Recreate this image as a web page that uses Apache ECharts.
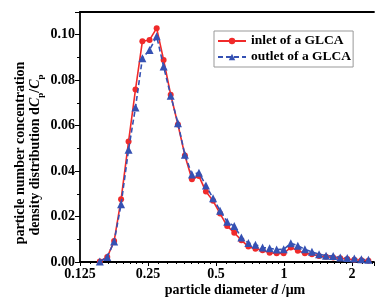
<!DOCTYPE html>
<html lang="en">
	<head>
		<meta charset="utf-8">
		<title>particle number concentration</title>
		<style>
			html, body { margin: 0; padding: 0; background: #fff; }
			#main { width: 377px; height: 298px; }
		</style>
	</head>
	<body>
		<div id="main"></div>
		<script src="https://cdn.jsdelivr.net/npm/echarts@6/dist/echarts.min.js"></script>
		<script>
			// particle diameters (um)
			var diameters = [0.153, 0.165, 0.177, 0.190, 0.205, 0.220, 0.236, 0.254, 0.273, 0.293,
				0.315, 0.339, 0.364, 0.391, 0.420, 0.451, 0.485, 0.521, 0.560, 0.602,
				0.647, 0.695, 0.747, 0.803, 0.863, 0.927, 0.996, 1.071, 1.150, 1.236,
				1.328, 1.428, 1.534, 1.649, 1.772, 1.904, 2.046, 2.198, 2.362];
			var inlet = [0.0002, 0.0022, 0.0092, 0.0276, 0.0530, 0.0759, 0.0971, 0.0977, 0.1029, 0.0889,
				0.0736, 0.0605, 0.0469, 0.0364, 0.0378, 0.0310, 0.0269, 0.0213, 0.0158, 0.0129,
				0.0096, 0.0068, 0.0058, 0.0052, 0.0041, 0.0038, 0.0038, 0.0064, 0.0050, 0.0038,
				0.0034, 0.0026, 0.0023, 0.0020, 0.0016, 0.0013, 0.0010, 0.0008, 0.0006];
			var outlet = [0.0002, 0.0022, 0.0090, 0.0254, 0.0494, 0.0680, 0.0896, 0.0933, 0.0993, 0.0860,
				0.0732, 0.0611, 0.0472, 0.0385, 0.0393, 0.0337, 0.0280, 0.0226, 0.0177, 0.0158,
				0.0108, 0.0084, 0.0076, 0.0064, 0.0060, 0.0055, 0.0056, 0.0082, 0.0072, 0.0056,
				0.0045, 0.0034, 0.0028, 0.0026, 0.0020, 0.0018, 0.0015, 0.0012, 0.0010];
			var xTickLabels = { 0.125: '0.125', 0.25: '0.25', 0.5: '0.5', 1: '1', 2: '2' };

			var font = '"Liberation Serif", "Times New Roman", serif';
			var red = '#f02a2a';
			var blue = '#3551b3';

			function pairs(values) {
				var out = [];
				for(var i = 0; i < diameters.length; i++) {
					out.push([diameters[i], values[i]]);
				}
				return out;
			}

			var myChart = echarts.init(document.getElementById('main'));
			option = {
				animation: false,
				grid: {
					left: 80,
					right: 0,
					top: 12,
					bottom: 36
				},
				legend: {
					orient: 'vertical',
					left: 214,
					top: 31,
					padding: [3, 2, 3, 3],
					itemGap: 2,
					itemWidth: 28,
					itemHeight: 8,
					borderColor: '#999',
					borderWidth: 1,
					textStyle: {
						fontFamily: font,
						fontWeight: 'bold',
						fontSize: 13.5,
						color: '#000'
					},
					data: ['inlet of a GLCA', 'outlet of a GLCA']
				},
				xAxis: [{
					type: 'log',
					logBase: 2,
					min: 0.125,
					max: 2.5,
					axisLine: { lineStyle: { color: '#000', width: 1.8 } },
					axisTick: { inside: false, length: 4, lineStyle: { color: '#000' } },
					minorTick: { show: true, splitNumber: 9, length: 2, lineStyle: { color: '#000' } },
					splitLine: { show: false },
					axisLabel: {
						fontFamily: font,
						fontWeight: 'bold',
						fontSize: 14,
						color: '#000',
						margin: 5,
						formatter: function(v) {
							return xTickLabels[v] || '';
						}
					}
				}, {
					type: 'value',
					position: 'top',
					min: 0,
					max: 1,
					axisLine: { show: true, onZero: false, lineStyle: { color: '#000', width: 1.8 } },
					axisTick: { show: false },
					axisLabel: { show: false },
					splitLine: { show: false }
				}],
				yAxis: {
					type: 'value',
					min: 0,
					max: 0.11,
					interval: 0.02,
					axisLine: { show: true, lineStyle: { color: '#000', width: 1.8 } },
					axisTick: { show: true, length: 5, lineStyle: { color: '#000' } },
					minorTick: { show: true, splitNumber: 2, length: 3, lineStyle: { color: '#000' } },
					splitLine: { show: false },
					axisLabel: {
						fontFamily: font,
						fontWeight: 'bold',
						fontSize: 14,
						color: '#000',
						margin: 5,
						showMaxLabel: false,
						formatter: function(v) {
							return v.toFixed(2);
						}
					}
				},
				graphic: [{
					type: 'text',
					x: 20,
					y: 153,
					rotation: Math.PI / 2,
					style: {
						text: 'particle number concentration',
						font: 'bold 14px ' + font,
						fill: '#000',
						align: 'center',
						verticalAlign: 'middle'
					}
				}, {
					type: 'text',
					x: 35,
					y: 155,
					rotation: Math.PI / 2,
					style: {
						text: 'density distribution d{i|C}{s|p}/{i|C}{s|p}',
						font: 'bold 14px ' + font,
						fill: '#000',
						align: 'center',
						verticalAlign: 'middle',
						lineHeight: 20,
						rich: {
							i: { fontFamily: font, fontWeight: 'bold', fontStyle: 'italic', fontSize: 14, lineHeight: 20 },
							s: { fontFamily: font, fontWeight: 'bold', fontSize: 9, lineHeight: 20, verticalAlign: 'bottom' }
						}
					}
				}, {
					type: 'text',
					x: 235,
					y: 290,
					style: {
						text: 'particle diameter {i|d} /\u03bcm',
						font: 'bold 14px ' + font,
						fill: '#000',
						align: 'center',
						verticalAlign: 'middle',
						rich: {
							i: { fontFamily: font, fontWeight: 'bold', fontStyle: 'italic', fontSize: 14 }
						}
					}
				}],
				series: [{
					name: 'inlet of a GLCA',
					type: 'line',
					data: pairs(inlet),
					symbol: 'circle',
					symbolSize: 6,
					itemStyle: { color: red },
					lineStyle: { color: red, width: 1.6 },
					z: 3
				}, {
					name: 'outlet of a GLCA',
					type: 'line',
					data: pairs(outlet),
					symbol: 'triangle',
					symbolSize: 8,
					itemStyle: { color: blue },
					lineStyle: { color: blue, width: 1.6, type: [5, 3] },
					z: 4
				}]
			};
			myChart.setOption(option);
		</script>
	</body>
</html>
